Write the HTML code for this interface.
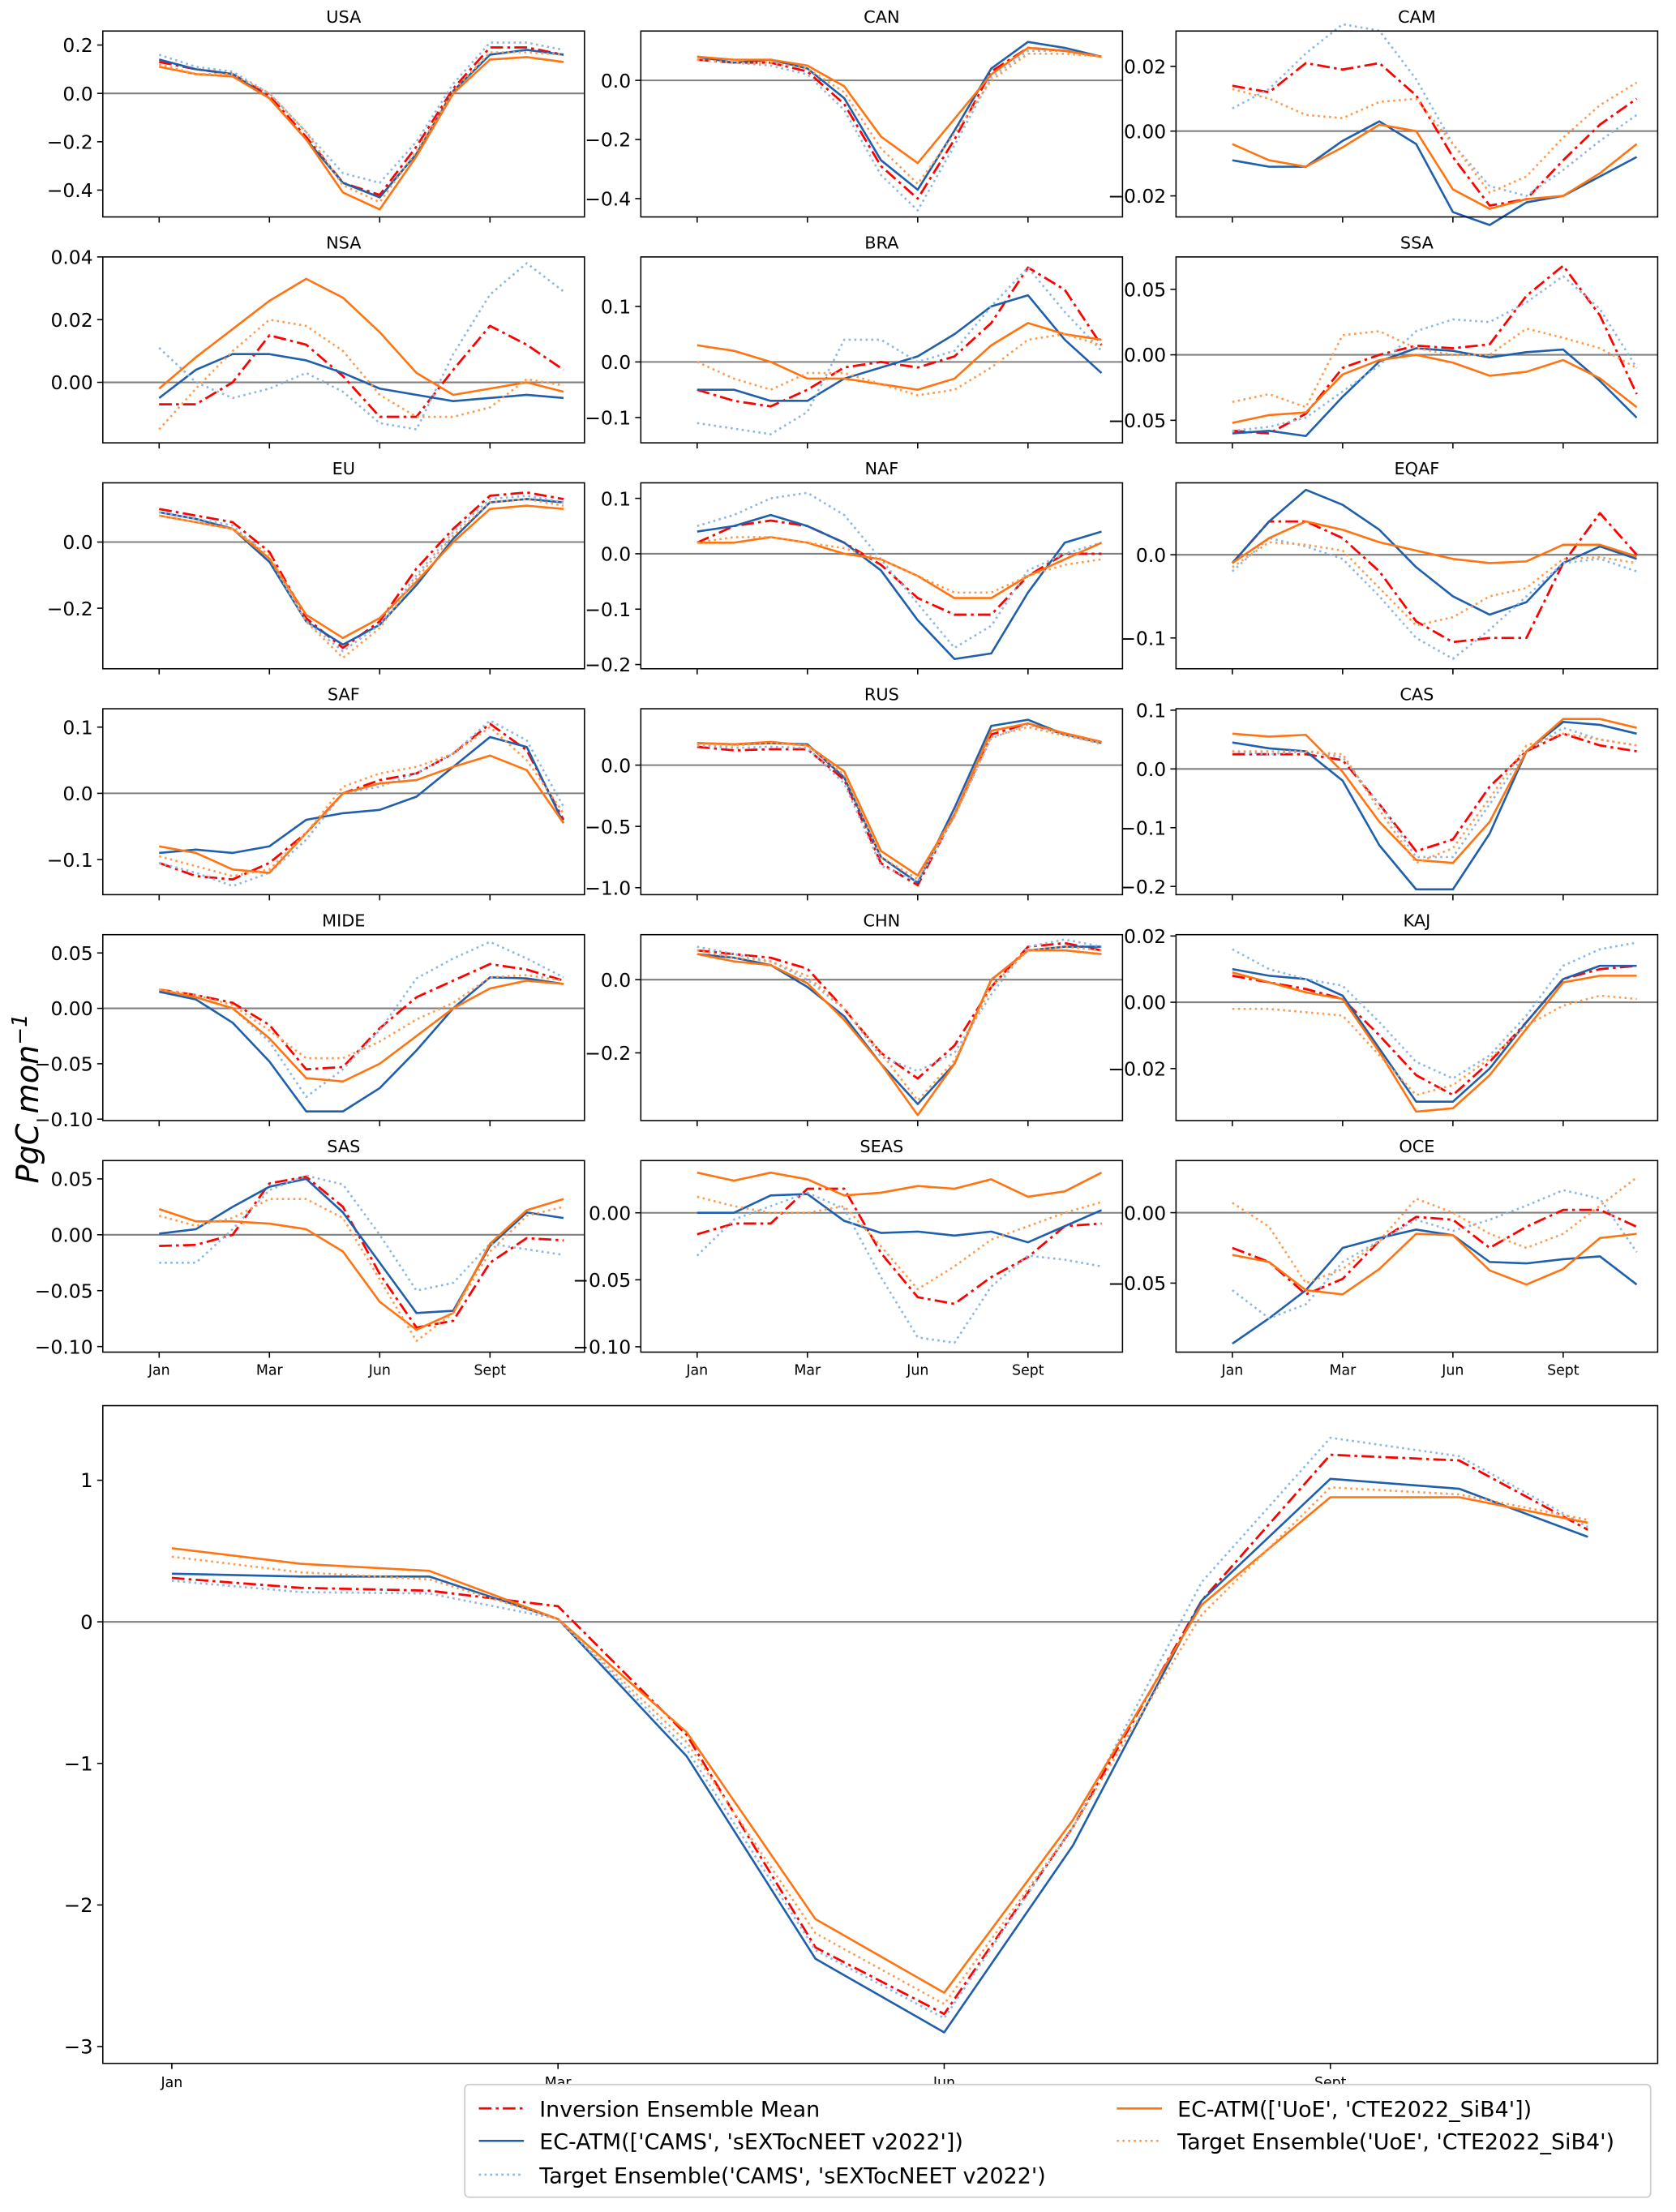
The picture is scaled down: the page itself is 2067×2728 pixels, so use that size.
<!DOCTYPE html>
<html><head><meta charset="utf-8">
<style>
html,body{margin:0;padding:0;background:#fff;}
svg{display:block;font-family:"DejaVu Sans","Liberation Sans",sans-serif;}
</style></head>
<body>
<svg id="chart" width="2067" height="2728" viewBox="0 0 1190 1570.5" xmlns="http://www.w3.org/2000/svg">
<text x="27" y="780" font-size="22" font-style="italic" text-anchor="middle" transform="rotate(-90 27 780)">PgC mon<tspan dy="-8" font-size="15">−1</tspan></text>
</svg>
<script>
const monthTicks = ['Jan','Mar','Jun','Sept'];
const monthTickIdx = [0,3,6,9];
const seriesNames = ['Inversion Ensemble Mean',"EC-ATM(['CAMS', 'sEXTocNEET v2022'])","Target Ensemble('CAMS', 'sEXTocNEET v2022')","EC-ATM(['UoE', 'CTE2022_SiB4'])","Target Ensemble('UoE', 'CTE2022_SiB4')"];

const USA_inv=[0.13,0.10,0.08,-0.01,-0.18,-0.37,-0.42,-0.22,0.02,0.19,0.19,0.16];
const USA_ec1=[0.14,0.10,0.08,-0.02,-0.19,-0.37,-0.43,-0.25,0.01,0.16,0.18,0.16];
const USA_tg1=[0.16,0.11,0.09,0.0,-0.16,-0.33,-0.37,-0.20,0.04,0.21,0.21,0.18];
const USA_ec2=[0.11,0.08,0.07,-0.02,-0.19,-0.41,-0.48,-0.26,0.0,0.14,0.15,0.13];
const USA_tg2=[0.12,0.08,0.08,0.0,-0.16,-0.38,-0.45,-0.24,0.01,0.17,0.17,0.16];

const CAN_inv=[0.07,0.06,0.06,0.03,-0.08,-0.29,-0.40,-0.20,0.03,0.11,0.10,0.08];
const CAN_ec1=[0.08,0.06,0.07,0.04,-0.06,-0.27,-0.37,-0.17,0.04,0.13,0.11,0.08];
const CAN_tg1=[0.07,0.06,0.05,0.02,-0.10,-0.32,-0.44,-0.22,0.01,0.10,0.10,0.08];
const CAN_ec2=[0.08,0.07,0.07,0.05,-0.02,-0.19,-0.28,-0.13,0.02,0.11,0.10,0.08];
const CAN_tg2=[0.07,0.06,0.06,0.04,-0.04,-0.23,-0.35,-0.18,0.0,0.09,0.09,0.08];

const CAM_inv=[0.014,0.012,0.021,0.019,0.021,0.011,-0.008,-0.023,-0.021,-0.009,0.002,0.010];
const CAM_ec1=[-0.009,-0.011,-0.011,-0.003,0.003,-0.004,-0.025,-0.029,-0.022,-0.020,-0.014,-0.008];
const CAM_tg1=[0.007,0.013,0.024,0.033,0.031,0.016,-0.004,-0.017,-0.020,-0.012,-0.003,0.005];
const CAM_ec2=[-0.004,-0.009,-0.011,-0.005,0.002,0.0,-0.018,-0.024,-0.021,-0.020,-0.013,-0.004];
const CAM_tg2=[0.013,0.010,0.005,0.004,0.009,0.010,-0.004,-0.019,-0.014,-0.002,0.008,0.015];

const NSA_inv=[-0.007,-0.007,0.0,0.015,0.012,0.002,-0.011,-0.011,0.004,0.018,0.012,0.004];
const NSA_ec1=[-0.005,0.004,0.009,0.009,0.007,0.003,-0.002,-0.004,-0.006,-0.005,-0.004,-0.005];
const NSA_tg1=[0.011,0.0,-0.005,-0.002,0.003,-0.003,-0.013,-0.015,0.009,0.028,0.038,0.029];
const NSA_ec2=[-0.002,0.008,0.017,0.026,0.033,0.027,0.016,0.003,-0.004,-0.002,0.0,-0.003];
const NSA_tg2=[-0.015,-0.002,0.010,0.020,0.018,0.010,-0.004,-0.011,-0.011,-0.008,0.001,-0.001];

const BRA_inv=[-0.05,-0.07,-0.08,-0.05,-0.01,0.0,-0.01,0.01,0.07,0.17,0.13,0.03];
const BRA_ec1=[-0.05,-0.05,-0.07,-0.07,-0.03,-0.01,0.01,0.05,0.10,0.12,0.04,-0.02];
const BRA_tg1=[-0.11,-0.12,-0.13,-0.09,0.04,0.04,0.0,0.02,0.10,0.17,0.09,0.02];
const BRA_ec2=[0.03,0.02,0.0,-0.03,-0.03,-0.04,-0.05,-0.03,0.03,0.07,0.05,0.04];
const BRA_tg2=[0.0,-0.03,-0.05,-0.02,-0.02,-0.04,-0.06,-0.05,-0.01,0.04,0.05,0.03];

const SSA_inv=[-0.058,-0.060,-0.045,-0.010,0.0,0.007,0.005,0.008,0.045,0.068,0.030,-0.030];
const SSA_ec1=[-0.060,-0.058,-0.062,-0.032,-0.005,0.005,0.003,-0.002,0.002,0.004,-0.020,-0.048];
const SSA_tg1=[-0.058,-0.055,-0.048,-0.028,-0.008,0.018,0.027,0.025,0.040,0.060,0.035,-0.010];
const SSA_ec2=[-0.052,-0.046,-0.044,-0.015,-0.004,0.0,-0.006,-0.016,-0.013,-0.004,-0.018,-0.040];
const SSA_tg2=[-0.036,-0.030,-0.040,0.015,0.018,0.005,0.0,0.0,0.020,0.013,0.005,-0.010];

const EU_inv=[0.10,0.08,0.06,-0.03,-0.23,-0.32,-0.24,-0.08,0.04,0.14,0.15,0.13];
const EU_ec1=[0.09,0.07,0.04,-0.06,-0.24,-0.31,-0.25,-0.13,0.01,0.12,0.13,0.12];
const EU_tg1=[0.09,0.07,0.05,-0.05,-0.24,-0.33,-0.25,-0.10,0.03,0.13,0.14,0.12];
const EU_ec2=[0.08,0.06,0.04,-0.05,-0.22,-0.29,-0.23,-0.12,0.0,0.10,0.11,0.10];
const EU_tg2=[0.08,0.06,0.04,-0.04,-0.24,-0.35,-0.26,-0.11,0.02,0.12,0.13,0.11];

const NAF_inv=[0.02,0.05,0.06,0.05,0.02,-0.02,-0.08,-0.11,-0.11,-0.04,0.0,0.0];
const NAF_ec1=[0.04,0.05,0.07,0.05,0.02,-0.03,-0.12,-0.19,-0.18,-0.07,0.02,0.04];
const NAF_tg1=[0.05,0.07,0.10,0.11,0.07,-0.01,-0.09,-0.17,-0.13,-0.03,0.0,0.02];
const NAF_ec2=[0.02,0.02,0.03,0.02,0.0,-0.01,-0.04,-0.08,-0.08,-0.04,-0.01,0.02];
const NAF_tg2=[0.02,0.03,0.03,0.02,0.01,-0.01,-0.04,-0.07,-0.07,-0.04,-0.02,-0.01];

const EQAF_inv=[-0.01,0.04,0.04,0.02,-0.02,-0.08,-0.105,-0.10,-0.10,-0.01,0.05,0.0];
const EQAF_ec1=[-0.01,0.04,0.078,0.06,0.03,-0.015,-0.05,-0.072,-0.057,-0.01,0.01,-0.005];
const EQAF_tg1=[-0.02,0.02,0.01,-0.005,-0.05,-0.10,-0.125,-0.09,-0.05,-0.01,-0.005,-0.02];
const EQAF_ec2=[-0.01,0.02,0.04,0.03,0.015,0.005,-0.005,-0.01,-0.008,0.012,0.012,-0.002];
const EQAF_tg2=[-0.015,0.015,0.012,0.005,-0.04,-0.085,-0.075,-0.05,-0.04,-0.005,-0.003,-0.01];

const SAF_inv=[-0.105,-0.125,-0.13,-0.105,-0.06,0.0,0.02,0.03,0.06,0.105,0.065,-0.04];
const SAF_ec1=[-0.09,-0.085,-0.09,-0.08,-0.04,-0.03,-0.025,-0.005,0.04,0.085,0.07,-0.045];
const SAF_tg1=[-0.105,-0.12,-0.14,-0.12,-0.07,0.0,0.01,0.03,0.06,0.11,0.08,-0.02];
const SAF_ec2=[-0.08,-0.09,-0.115,-0.12,-0.06,0.0,0.015,0.02,0.04,0.057,0.035,-0.045];
const SAF_tg2=[-0.095,-0.11,-0.125,-0.115,-0.06,0.01,0.03,0.04,0.06,0.10,0.05,-0.03];

const RUS_inv=[0.15,0.12,0.13,0.13,-0.12,-0.80,-0.98,-0.40,0.25,0.34,0.25,0.19];
const RUS_ec1=[0.18,0.17,0.18,0.17,-0.10,-0.75,-0.96,-0.35,0.32,0.37,0.25,0.18];
const RUS_tg1=[0.16,0.14,0.15,0.14,-0.15,-0.82,-0.95,-0.42,0.22,0.33,0.25,0.17];
const RUS_ec2=[0.18,0.17,0.19,0.16,-0.05,-0.70,-0.90,-0.40,0.28,0.34,0.26,0.19];
const RUS_tg2=[0.17,0.16,0.18,0.16,-0.08,-0.75,-0.93,-0.42,0.23,0.31,0.24,0.18];

const CAS_inv=[0.025,0.025,0.025,0.015,-0.06,-0.14,-0.12,-0.03,0.03,0.06,0.04,0.03];
const CAS_ec1=[0.045,0.035,0.03,-0.02,-0.13,-0.205,-0.205,-0.11,0.03,0.08,0.075,0.06];
const CAS_tg1=[0.03,0.025,0.03,0.02,-0.06,-0.15,-0.15,-0.06,0.03,0.07,0.05,0.04];
const CAS_ec2=[0.06,0.055,0.058,-0.005,-0.09,-0.155,-0.16,-0.09,0.03,0.085,0.085,0.07];
const CAS_tg2=[0.03,0.03,0.03,0.025,-0.07,-0.16,-0.135,-0.05,0.04,0.06,0.05,0.04];

const MIDE_inv=[0.017,0.012,0.005,-0.015,-0.055,-0.053,-0.018,0.010,0.025,0.040,0.035,0.025];
const MIDE_ec1=[0.015,0.008,-0.013,-0.048,-0.093,-0.093,-0.072,-0.038,0.0,0.028,0.027,0.022];
const MIDE_tg1=[0.017,0.010,0.0,-0.030,-0.080,-0.055,-0.020,0.027,0.045,0.060,0.045,0.028];
const MIDE_ec2=[0.017,0.010,0.0,-0.027,-0.063,-0.066,-0.050,-0.025,0.0,0.018,0.025,0.022];
const MIDE_tg2=[0.017,0.012,0.003,-0.020,-0.045,-0.045,-0.030,-0.010,0.005,0.028,0.030,0.025];

const CHN_inv=[0.08,0.07,0.06,0.03,-0.08,-0.20,-0.27,-0.18,-0.02,0.09,0.10,0.08];
const CHN_ec1=[0.07,0.06,0.04,-0.02,-0.10,-0.23,-0.34,-0.23,0.0,0.08,0.09,0.09];
const CHN_tg1=[0.09,0.07,0.05,0.0,-0.08,-0.21,-0.25,-0.20,-0.04,0.09,0.11,0.09];
const CHN_ec2=[0.07,0.05,0.04,-0.01,-0.11,-0.23,-0.37,-0.23,0.0,0.08,0.08,0.07];
const CHN_tg2=[0.08,0.06,0.05,0.01,-0.08,-0.20,-0.33,-0.22,-0.02,0.08,0.09,0.08];

const KAJ_inv=[0.008,0.006,0.004,0.001,-0.010,-0.022,-0.028,-0.018,-0.006,0.007,0.010,0.011];
const KAJ_ec1=[0.010,0.008,0.007,0.002,-0.014,-0.030,-0.030,-0.020,-0.006,0.007,0.011,0.011];
const KAJ_tg1=[0.016,0.010,0.007,0.005,-0.006,-0.018,-0.023,-0.016,-0.004,0.011,0.016,0.018];
const KAJ_ec2=[0.009,0.006,0.003,0.001,-0.015,-0.033,-0.032,-0.022,-0.008,0.006,0.008,0.008];
const KAJ_tg2=[-0.002,-0.002,-0.003,-0.004,-0.016,-0.028,-0.025,-0.017,-0.007,-0.001,0.002,0.001];

const SAS_inv=[-0.010,-0.009,0.0,0.046,0.052,0.025,-0.035,-0.083,-0.077,-0.025,-0.003,-0.005];
const SAS_ec1=[0.001,0.005,0.025,0.043,0.050,0.020,-0.025,-0.070,-0.068,-0.010,0.020,0.015];
const SAS_tg1=[-0.025,-0.025,0.005,0.040,0.053,0.045,0.0,-0.050,-0.043,-0.008,-0.013,-0.018];
const SAS_ec2=[0.023,0.012,0.012,0.010,0.005,-0.015,-0.060,-0.085,-0.070,-0.008,0.022,0.032];
const SAS_tg2=[0.017,0.008,0.015,0.032,0.032,0.015,-0.040,-0.095,-0.070,-0.015,0.017,0.025];

const SEAS_inv=[-0.016,-0.008,-0.008,0.018,0.018,-0.030,-0.063,-0.068,-0.048,-0.033,-0.010,-0.008];
const SEAS_ec1=[0.0,0.0,0.013,0.014,-0.006,-0.015,-0.014,-0.017,-0.014,-0.022,-0.010,0.002];
const SEAS_tg1=[-0.032,-0.005,0.005,0.015,0.003,-0.048,-0.093,-0.097,-0.055,-0.032,-0.035,-0.040];
const SEAS_ec2=[0.030,0.024,0.030,0.025,0.013,0.015,0.020,0.018,0.025,0.012,0.016,0.030];
const SEAS_tg2=[0.012,0.005,0.0,0.0,0.005,-0.025,-0.057,-0.040,-0.020,-0.010,0.0,0.008];

const OCE_inv=[-0.025,-0.035,-0.058,-0.047,-0.020,-0.003,-0.005,-0.025,-0.010,0.002,0.002,-0.010];
const OCE_ec1=[-0.093,-0.075,-0.055,-0.025,-0.018,-0.012,-0.016,-0.035,-0.036,-0.033,-0.031,-0.051];
const OCE_tg1=[-0.055,-0.075,-0.065,-0.035,-0.020,-0.005,-0.013,-0.005,0.005,0.016,0.010,-0.028];
const OCE_ec2=[-0.030,-0.035,-0.055,-0.058,-0.040,-0.015,-0.016,-0.041,-0.051,-0.040,-0.018,-0.015];
const OCE_tg2=[0.007,-0.010,-0.050,-0.040,-0.020,0.010,0.0,-0.015,-0.025,-0.015,0.005,0.025];

const GLOBAL_inv=[0.31,0.24,0.22,0.11,-0.80,-2.30,-2.77,-1.45,0.15,1.18,1.14,0.65];
const GLOBAL_ec1=[0.34,0.32,0.32,0.02,-0.95,-2.38,-2.90,-1.58,0.15,1.01,0.94,0.60];
const GLOBAL_tg1=[0.29,0.21,0.20,0.02,-0.90,-2.32,-2.80,-1.45,0.28,1.30,1.17,0.67];
const GLOBAL_ec2=[0.52,0.41,0.36,0.02,-0.78,-2.10,-2.62,-1.40,0.12,0.88,0.88,0.70];
const GLOBAL_tg2=[0.46,0.35,0.30,0.02,-0.85,-2.20,-2.70,-1.45,0.05,0.95,0.90,0.72];

const regionNames=['USA','CAN','CAM','NSA','BRA','SSA','EU','NAF','EQAF','SAF','RUS','CAS','MIDE','CHN','KAJ','SAS','SEAS','OCE'];
const regionTicks=[[0.2,0,-0.2,-0.4],[0,-0.2,-0.4],[0.02,0,-0.02],[0.04,0.02,0],[0.1,0,-0.1],[0.05,0,-0.05],[0,-0.2],[0.1,0,-0.1,-0.2],[0,-0.1],[0.1,0,-0.1],[0,-0.5,-1.0],[0.1,0,-0.1,-0.2],[0.05,0,-0.05,-0.1],[0,-0.2],[0.02,0,-0.02],[0.05,0,-0.05,-0.1],[0,-0.05,-0.1],[0,-0.05]];
const regionTickLabels=[['0.2','0.0','−0.2','−0.4'],['0.0','−0.2','−0.4'],['0.02','0.00','−0.02'],['0.04','0.02','0.00'],['0.1','0.0','−0.1'],['0.05','0.00','−0.05'],['0.0','−0.2'],['0.1','0.0','−0.1','−0.2'],['0.0','−0.1'],['0.1','0.0','−0.1'],['0.0','−0.5','−1.0'],['0.1','0.0','−0.1','−0.2'],['0.05','0.00','−0.05','−0.10'],['0.0','−0.2'],['0.02','0.00','−0.02'],['0.05','0.00','−0.05','−0.10'],['0.00','−0.05','−0.10'],['0.00','−0.05']];
const regionLimits=[[0.258,-0.511],[0.167,-0.462],[0.0309,-0.0265],[0.04,-0.0193],[0.189,-0.1456],[0.0747,-0.0672],[0.179,-0.383],[0.128,-0.2076],[0.0864,-0.137],[0.1277,-0.153],[0.46,-1.057],[0.1024,-0.214],[0.0665,-0.1013],[0.123,-0.385],[0.0204,-0.0357],[0.0664,-0.105],[0.039,-0.104],[0.037,-0.099]];
const globalTicks=[1,0,-1,-2,-3];
const globalTickLabels=['1','0','−1','−2','−3'];
const globalLimits=[1.527,-3.119];

const NS='http://www.w3.org/2000/svg';
const svg=document.getElementById('chart');
const STY=[
 {c:'#ff0000',d:'9,3,2,3',w:1.6},
 {c:'#1f5fab',d:'',w:1.5},
 {c:'#8cb6e3',d:'1.5,2.5',w:1.5},
 {c:'#ff7410',d:'',w:1.5},
 {c:'#ff9a4a',d:'1.5,2.5',w:1.5}
];
function mk(tag,attrs,parent){const e=document.createElementNS(NS,tag);for(const k in attrs)e.setAttribute(k,attrs[k]);(parent||svg).appendChild(e);return e;}

function drawPanel(name,L,T,W,H,lims,ticks,tlabels,x0,step,series,big){
  const g=mk('g',{});
  
  
  const ys=v=>T+(lims[0]-v)/(lims[0]-lims[1])*H;
  const xs=i=>x0+i*step;
  const z=mk('line',{x1:L,x2:L+W,y1:ys(0),y2:ys(0),stroke:'#808080','stroke-width':1.2},g);
  
  
  series.forEach((s,k)=>{
    const p=mk('polyline',{points:s.map((v,i)=>xs(i).toFixed(2)+','+ys(v).toFixed(2)).join(' '),fill:'none',stroke:STY[k].c,'stroke-width':STY[k].w,'stroke-dasharray':STY[k].d,'stroke-linejoin':'round'},g);
    
    
  });
  const f=mk('rect',{x:L,y:T,width:W,height:H,fill:'none',stroke:'#000','stroke-width':0.9},g);
  
  
  ticks.forEach((t,i)=>{
    const y=ys(t);
    mk('line',{x1:L-4,x2:L,y1:y,y2:y,stroke:'#000','stroke-width':0.9},g);
    const tx=mk('text',{x:L-7,y:y+5,'font-size':big?14:13.5,'text-anchor':'end',fill:'#000'},g);
    
    
    tx.textContent=tlabels[i];
  });
  monthTickIdx.forEach((m,i)=>{
    const x=xs(m);
    mk('line',{x1:x,x2:x,y1:T+H,y2:T+H+4,stroke:'#000','stroke-width':0.9},g);
    if(series.showX){
      const tx=mk('text',{x:x,y:T+H+(big?17:16),'font-size':10,'text-anchor':'middle',fill:'#000'},g);
      
      
      tx.textContent=monthTicks[i];
    }
  });
  if(!big){
    const tt=mk('text',{x:L+W/2,y:T-6,'font-size':12,'text-anchor':'middle',fill:'#000'},g);
    
    
    tt.textContent=name;
  }
}

const colL=[73,455,835], colW=342, rowT0=22, rowStep=160.4, panH=132;
regionNames.forEach((r,idx)=>{
  const col=idx%3,row=Math.floor(idx/3);
  const ser=[eval(r+'_inv'),eval(r+'_ec1'),eval(r+'_tg1'),eval(r+'_ec2'),eval(r+'_tg2')];
  ser.showX=(row===5);
  const T=rowT0+row*rowStep;
  drawPanel(r,colL[col],T,colW,row===5?136:panH,regionLimits[idx],regionTicks[idx],regionTickLabels[idx],colL[col]+40,26.1,ser,false);
});
const gser=[GLOBAL_inv,GLOBAL_ec1,GLOBAL_tg1,GLOBAL_ec2,GLOBAL_tg2];
gser.showX=true;
drawPanel('Global',73,998,1104,467,globalLimits,globalTicks,globalTickLabels,122,91.4,gser,true);

const lg=mk('g',{});


mk('rect',{x:330,y:1480,width:842,height:80,rx:3,fill:'#fff',stroke:'#cccccc','stroke-width':1},lg);
const legPos=[[340,1497],[340,1520],[340,1544],[793,1497],[793,1520]];
seriesNames.forEach((n,k)=>{
  const [x,y]=legPos[k];
  const e=mk('g',{},lg);
  
  
  mk('line',{x1:x,x2:x+32,y1:y,y2:y,stroke:STY[k].c,'stroke-width':STY[k].w,'stroke-dasharray':STY[k].d},e);
  const t=mk('text',{x:x+43,y:y+6,'font-size':15.5,fill:'#000'},e);
  t.textContent=n;
});
</script>
</body></html>
